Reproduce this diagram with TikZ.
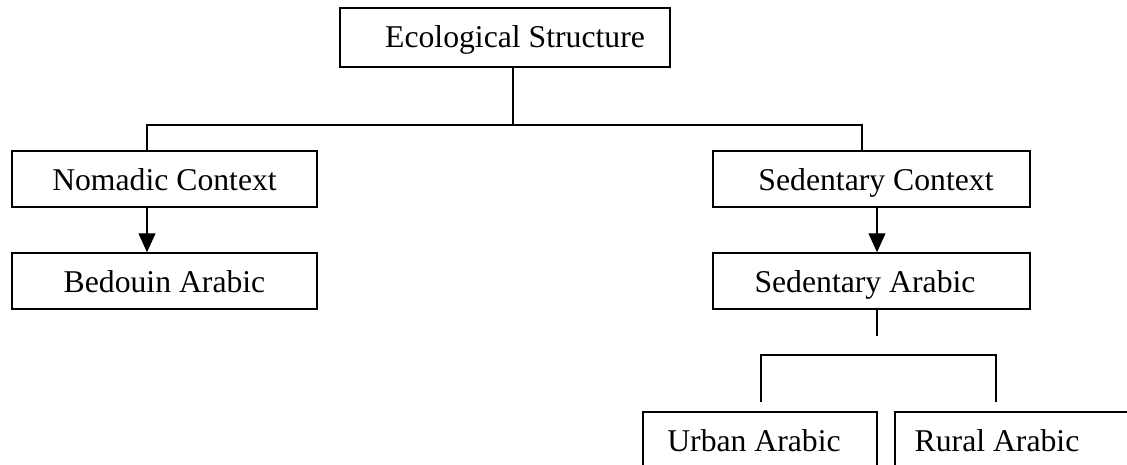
\documentclass[tikz,border=0pt]{standalone}
\usepackage{fontspec}
\setmainfont{Liberation Serif}
\usetikzlibrary{calc,arrows.meta,positioning}
\tikzset{
    box/.style={draw, rectangle, line width=1.5pt, inner sep=0pt,
    minimum height=56pt, text height=24pt, text depth=2pt,
    text centered, font=\fontsize{31.7}{38}\selectfont},
    link/.style={line width=1.3pt},
    arr/.style={link, -{Triangle[length=19pt,width=17pt]}}
}
\begin{document}
\begin{tikzpicture}[x=1pt,y=-1pt]
		    \useasboundingbox (0,0) rectangle (1127,464);
		    \clip (0,0) rectangle (1127,464);
		    \node [box, minimum width=330pt, minimum height=59pt, text height=21pt, text depth=2pt] (eco) at (505,37.5) {\hspace*{20pt}Ecological Structure};
		    \node [box, minimum width=305pt] (nomadic) at (164.5,179) {Nomadic Context};
		    \node [box, minimum width=305pt] (bedouin) at (164.5,281) {Bedouin Arabic};
		    \node [box, minimum width=317pt] (sedctx) at (871.5,179) {\hspace*{9pt}Sedentary Context};
		    \node [box, minimum width=317pt] (sedar) at (871.5,281) {Sedentary Arabic\hspace*{13pt}};
		    \node [box, minimum width=234pt] (urban) at (760,440) {Urban Arabic\hspace*{12pt}};
		    \node [box, minimum width=245pt] (rural) at (1017.5,440) {Rural Arabic\hspace*{41pt}};
		    \coordinate (hub) at (513,125);
		    \coordinate (lft) at (147,125);
		    \coordinate (rgt) at (862,125);
		    \coordinate (stub) at (877,336);
		    \coordinate (bl) at (761,402);
		    \coordinate (br) at (996,402);
		    \draw [link] (eco.south -| hub) -- (hub);
		    \draw [link] (nomadic.north -| lft) -- (lft) -- (rgt) -- (sedctx.north -| rgt);
		    \draw [arr] (nomadic.south -| lft) -- (bedouin.north -| lft);
		    \draw [arr] (sedctx.south -| stub) -- (sedar.north -| stub);
		    \draw [link] (sedar.south -| stub) -- (stub);
		    \draw [link] (bl) -- ++(0,-47) -| (br);
		    \end{tikzpicture}
\end{document}
